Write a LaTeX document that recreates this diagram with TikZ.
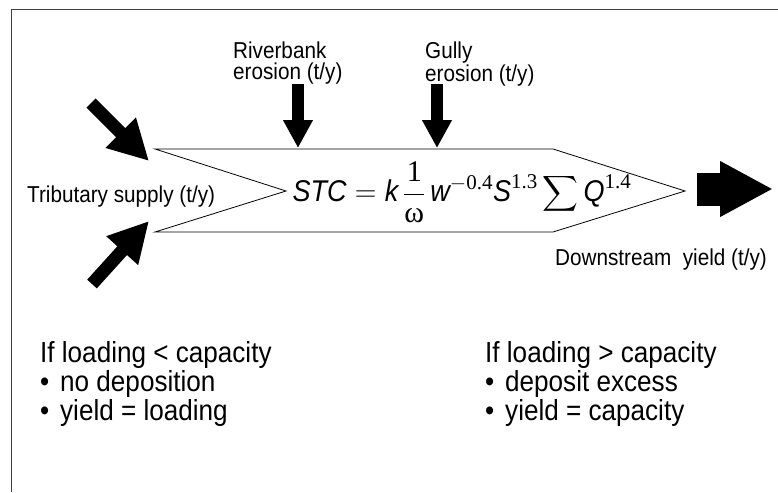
\RequirePackage{fix-cm}
\documentclass[tikz,border=0pt]{standalone}
\usepackage{amsmath}
\usepackage{fontspec}
\setmainfont{Liberation Sans}[FakeStretch=0.9]
\newfontfamily\numfont{Liberation Serif}
\usetikzlibrary{arrows.meta,positioning}

\tikzset{
	flowlabel/.style={font=\fontsize{23}{21}\selectfont, align=left, inner sep=0pt},
	casetext/.style={font=\fontsize{29}{29}\selectfont, align=left, inner sep=0pt, anchor=north west},
	inflow/.style={line width=12pt, -{Triangle[length=28pt,width=28pt]}},
	tribflow/.style={line width=13pt, -{Triangle[length=40pt,width=40pt]}},
	outflow/.style={line width=33pt, -{Triangle[length=53pt,width=52pt]}},
}
\newcommand{\bul}{\makebox[20pt][l]{\textbullet}}

\begin{document}
\begin{tikzpicture}[x=1pt,y=-1pt]
			\useasboundingbox (0,0) rectangle (778,492);
			% frame
			\draw[line width=1pt, black!75] (11,492) -- (11,10) -- (778,10);
			% river reach
			\coordinate (reach_tl) at (155,149);
			\coordinate (reach_in) at (286,191);
			\coordinate (reach_bl) at (155,232);
			\coordinate (reach_br) at (553,232);
			\coordinate (reach_out) at (685,191);
			\coordinate (reach_tr) at (553,149);
			\draw[line width=0.8pt] (reach_tl) -- (reach_in) -- (reach_bl) -- (reach_br)
			-- (reach_out) -- (reach_tr) -- cycle;
			\node (stc) at (462,192) {\fontsize{30}{32}\selectfont
				$\displaystyle \textit{STC} = \textit{k}\,\frac{\text{\numfont 1}}{\text{\numfont ω}}\,
				\textit{w}^{-\text{\numfont 0.4}}\textit{S}^{\text{\numfont 1.3}}\sum\textit{Q}^{\text{\numfont 1.4}}$};
			% sources
			\node[flowlabel, anchor=north west] (bank) at (233,42) {Riverbank\\erosion (t/y)};
			\node[flowlabel, anchor=north west] (gully) at (425,42) {Gully\\erosion (t/y)};
			\node[flowlabel, anchor=base west] (trib) at (27,202) {Tributary supply (t/y)};
			\node[flowlabel, anchor=base west] (down) at (555,265) {Downstream~~yield (t/y)};
			\coordinate (bank_in) at (298,84);
			\coordinate (bank_hit) at (298,148);
			\coordinate (gully_in) at (437,84);
			\coordinate (gully_hit) at (437,148);
			\coordinate (trib_a) at (91,103);
			\coordinate (trib_a_hit) at (149,161);
			\coordinate (trib_b) at (92,284);
			\coordinate (trib_b_hit) at (149,221);
			\coordinate (yield_out) at (697,189);
			\coordinate (yield_end) at (773,189);
			\draw[inflow] (bank_in) -- (bank_hit);
			\draw[inflow] (gully_in) -- (gully_hit);
			\draw[tribflow] (trib_a) -- (trib_a_hit);
			\draw[tribflow] (trib_b) -- (trib_b_hit);
			\draw[outflow] (yield_out) -- (yield_end);
			% cases
			\node[casetext] (low) at (40,341) {If loading < capacity\\\bul no deposition\\\bul yield = loading};
			\node[casetext] (high) at (485,341) {If loading > capacity\\\bul deposit excess\\\bul yield = capacity};
		\end{tikzpicture}
\end{document}
